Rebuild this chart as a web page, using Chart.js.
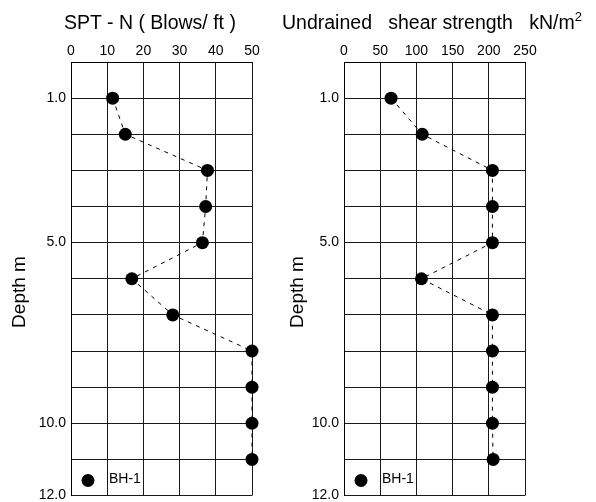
<!DOCTYPE html>
<html>
<head>
<meta charset="utf-8">
<script src="https://cdn.jsdelivr.net/npm/chart.js@4.4.0/dist/chart.umd.min.js"></script>
<style>
  html, body { margin: 0; padding: 0; background: #fff; }
  body { width: 596px; height: 502px; position: relative; overflow: hidden; font-family: "Liberation Sans", Arial, sans-serif; }
  .wrap { position: absolute; top: 0; height: 502px; }
  .title { position: absolute; top: 12px; font-size: 19.5px; line-height: 20px; white-space: pre; color: #000; }
  .title sup { font-size: 13px; vertical-align: 8px; line-height: 0; }
</style>
</head>
<body>
<div class="wrap" style="left:0;width:280px"><canvas id="c1" width="280" height="502"></canvas></div>
<div class="wrap" style="left:280px;width:316px"><canvas id="c2" width="316" height="502"></canvas></div>
<div class="title" id="t1">SPT - N ( Blows/ ft )</div>
<div class="title" id="t2" style="left:282px;">Undrained   shear strength   kN/m<sup>2</sup></div>
<script>
// ---- data ----
const depths = [1, 2, 3, 4, 5, 6, 7, 8, 9, 10, 11];
const sptN = [11.5, 15, 37.7, 37.2, 36.3, 16.8, 28.1, 50, 50, 50, 50];
const shearStrength = [65, 108, 205, 205, 205, 107, 205, 205, 205, 205, 206];
const labeledDepths = [1, 5, 10, 12];
const seriesLabel = 'BH-1';
const depthTitle = 'Depth m';
const sptTicks = [0, 10, 20, 30, 40, 50];
const shearTicks = [0, 50, 100, 150, 200, 250];

const t1 = document.getElementById('t1');
t1.style.left = (150 - t1.offsetWidth / 2) + 'px';

const FONT = '"Liberation Sans", Arial, sans-serif';

const legendInArea = {
  id: 'legendInArea',
  afterDraw(chart) {
    const ctx = chart.ctx;
    const a = chart.chartArea;
    const ds = chart.data.datasets[0];
    ctx.save();
    ctx.fillStyle = '#000';
    ctx.beginPath();
    ctx.arc(a.left + 17, a.bottom - 15, 6.5, 0, Math.PI * 2);
    ctx.fill();
    ctx.font = '14px ' + FONT;
    ctx.textBaseline = 'middle';
    ctx.textAlign = 'left';
    ctx.fillText(ds.label, a.left + 38, a.bottom - 16);
    ctx.restore();
  }
};

const depthLabel = {
  id: 'depthLabel',
  afterDraw(chart, args, opts) {
    const ctx = chart.ctx;
    ctx.save();
    ctx.translate(opts.x, opts.y);
    ctx.rotate(-Math.PI / 2);
    ctx.fillStyle = '#000';
    ctx.font = '19px ' + FONT;
    ctx.textAlign = 'center';
    ctx.textBaseline = 'middle';
    ctx.fillText(depthTitle, 0, 0);
    ctx.restore();
  }
};

function makeChart(id, values, ticks, yAxisWidth, padRight, labelX) {
  const xmax = ticks[ticks.length - 1];
  const step = ticks[1] - ticks[0];
  return new Chart(document.getElementById(id), {
    type: 'scatter',
    data: {
      datasets: [{
        label: seriesLabel,
        data: depths.map((d, i) => ({ x: values[i], y: d })),
        showLine: true,
        clip: false,
        borderColor: '#000',
        borderWidth: 1,
        borderDash: [4, 5],
        backgroundColor: '#000',
        pointBackgroundColor: '#000',
        pointBorderColor: '#000',
        pointRadius: 6.5,
        pointBorderWidth: 0,
        tension: 0
      }]
    },
    options: {
      responsive: false,
      animation: false,
      devicePixelRatio: 1,
      layout: { padding: { top: 32, right: padRight, bottom: 4, left: 0 } },
      plugins: {
        legend: { display: false }, tooltip: { enabled: false }, title: { display: false },
        depthLabel: { x: labelX, y: 292 }
      },
      scales: {
        x: {
          type: 'linear',
          position: 'top',
          min: 0, max: xmax,
          afterBuildTicks: (s) => { s.ticks = ticks.map(v => ({ value: v })); },
          ticks: { stepSize: step, color: '#000', font: { family: FONT, size: 14 }, padding: 2, maxRotation: 0 },
          grid: { color: '#1a1a1a', lineWidth: 1, drawTicks: false },
          border: { display: true, color: '#000', width: 1 },
          afterFit: (s) => { s.height = 30; s.paddingLeft = 0; s.paddingRight = 0; }
        },
        y: {
          type: 'linear',
          reverse: true,
          min: 0, max: 12,
          ticks: {
            stepSize: 1,
            color: '#000',
            font: { family: FONT, size: 14 },
            padding: 5,
            callback: (v) => labeledDepths.includes(v) ? v.toFixed(1) : ''
          },
          grid: { color: '#1a1a1a', lineWidth: 1, drawTicks: false },
          border: { display: true, color: '#000', width: 1 },
          afterFit: (s) => { s.width = yAxisWidth; s.paddingTop = 0; s.paddingBottom = 0; }
        }
      }
    },
    plugins: [legendInArea, depthLabel]
  });
}

makeChart('c1', sptN, sptTicks, 71, 28, 20);
makeChart('c2', shearStrength, shearTicks, 64, 71, 18);
</script>
</body>
</html>
